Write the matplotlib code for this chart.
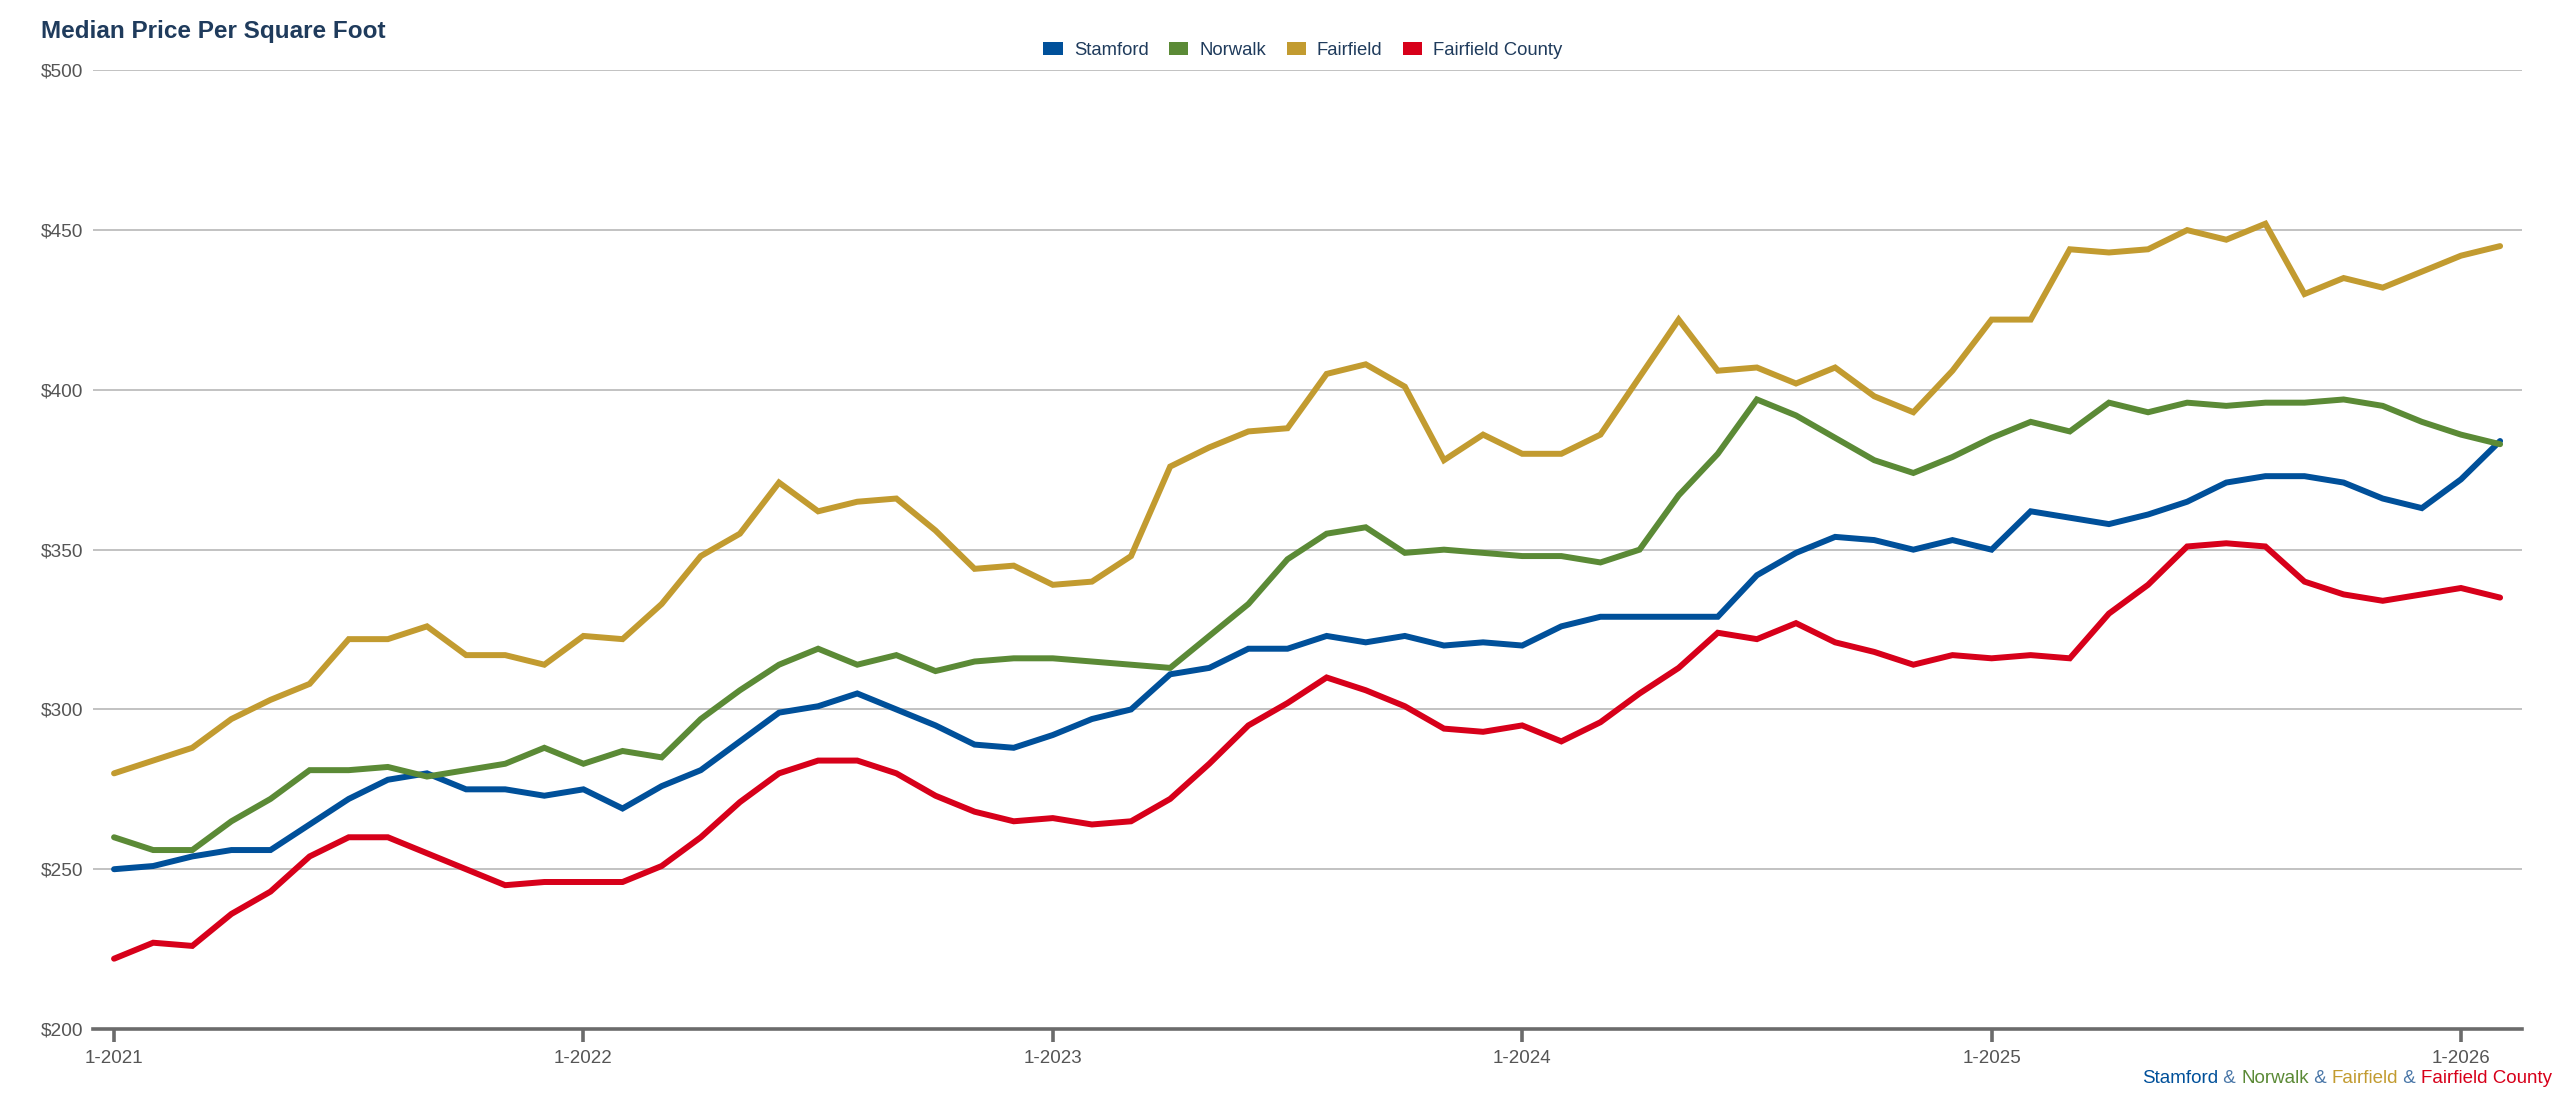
import matplotlib
matplotlib.use("Agg")
import matplotlib.pyplot as plt
from matplotlib.patches import Patch
from matplotlib.ticker import FuncFormatter, MultipleLocator

plt.rcParams["font.family"] = ["Liberation Sans", "DejaVu Sans"]

# monthly points, Jan 2021 .. Feb 2026
months = list(range(62))
tick_pos = [0, 12, 24, 36, 48, 60]
tick_labels = ["1-2021", "1-2022", "1-2023", "1-2024", "1-2025", "1-2026"]

stamford = [250, 251, 254, 256, 256, 264, 272, 278, 280, 275, 275, 273,
            275, 269, 276, 281, 290, 299, 301, 305, 300, 295, 289, 288,
            292, 297, 300, 311, 313, 319, 319, 323, 321, 323, 320, 321,
            320, 326, 329, 329, 329, 329, 342, 349, 354, 353, 350, 353,
            350, 362, 360, 358, 361, 365, 371, 373, 373, 371, 366, 363,
            372, 384]
norwalk = [260, 256, 256, 265, 272, 281, 281, 282, 279, 281, 283, 288,
           283, 287, 285, 297, 306, 314, 319, 314, 317, 312, 315, 316,
           316, 315, 314, 313, 323, 333, 347, 355, 357, 349, 350, 349,
           348, 348, 346, 350, 367, 380, 397, 392, 385, 378, 374, 379,
           385, 390, 387, 396, 393, 396, 395, 396, 396, 397, 395, 390,
           386, 383]
fairfield = [280, 284, 288, 297, 303, 308, 322, 322, 326, 317, 317, 314,
             323, 322, 333, 348, 355, 371, 362, 365, 366, 356, 344, 345,
             339, 340, 348, 376, 382, 387, 388, 405, 408, 401, 378, 386,
             380, 380, 386, 404, 422, 406, 407, 402, 407, 398, 393, 406,
             422, 422, 444, 443, 444, 450, 447, 452, 430, 435, 432, 437,
             442, 445]
county = [222, 227, 226, 236, 243, 254, 260, 260, 255, 250, 245, 246,
          246, 246, 251, 260, 271, 280, 284, 284, 280, 273, 268, 265,
          266, 264, 265, 272, 283, 295, 302, 310, 306, 301, 294, 293,
          295, 290, 296, 305, 313, 324, 322, 327, 321, 318, 314, 317,
          316, 317, 316, 330, 339, 351, 352, 351, 340, 336, 334, 336,
          338, 335]

names = ["Stamford", "Norwalk", "Fairfield", "Fairfield County"]
colors = ["#00509a", "#5b8a36", "#c29b30", "#d7001a"]
amp_color = "#4a77a8"
navy = "#1f3b5c"
grey = "#555555"

fig = plt.figure(figsize=(25.6, 10.99), dpi=100)
ax = fig.add_axes([0.0363, 0.0637, 0.9487, 0.8723])

for vals, name, col in zip([stamford, norwalk, fairfield, county], names, colors):
    ax.plot(months, vals, color=col, lw=4.3, solid_capstyle="round",
            solid_joinstyle="miter", label=name, zorder=3)

ax.set_xlim(-0.54, 61.55)
ax.set_ylim(200, 500)
ax.yaxis.set_major_locator(MultipleLocator(50))
ax.yaxis.set_major_formatter(FuncFormatter(lambda v, p: f"${v:.0f}"))
ax.set_xticks(tick_pos)
ax.set_xticklabels(tick_labels)

ax.grid(axis="y", color="#bdbdbd", lw=1.3, zorder=0)
ax.grid(axis="x", visible=False)
for s in ["left", "right", "top"]:
    ax.spines[s].set_visible(False)
ax.spines["bottom"].set_color("#6b6b6b")
ax.spines["bottom"].set_linewidth(2.6)
ax.tick_params(axis="y", length=0, pad=7, labelsize=13.8, labelcolor=grey)
ax.tick_params(axis="x", length=9, width=2.6, color="#6b6b6b", pad=6,
               labelsize=13.5, labelcolor=grey)

fig.text(0.016, 0.982, "Median Price Per Square Foot", fontsize=17.5,
         fontweight="bold", color=navy, ha="left", va="top")

handles = [Patch(facecolor=c, edgecolor="none") for c in colors]
leg = fig.legend(handles, names, loc="center", bbox_to_anchor=(0.509, 0.954),
                 ncol=4, frameon=False, fontsize=13.3, handlelength=1.05,
                 handleheight=0.7, handletextpad=0.6, columnspacing=1.1)
for t in leg.get_texts():
    t.set_color(navy)

# multi-coloured source line, chained right to left
pieces = [("Stamford", colors[0]), (" & ", amp_color), ("Norwalk", colors[1]),
          (" & ", amp_color), ("Fairfield", colors[2]), (" & ", amp_color),
          ("Fairfield County", colors[3])]
prev = fig.text(0.997, 0.011, pieces[-1][0], color=pieces[-1][1], fontsize=13.5,
                ha="right", va="bottom")
for txt, col in reversed(pieces[:-1]):
    prev = ax.annotate(txt, xy=(0, 0), xycoords=prev, color=col, fontsize=13.5,
                       ha="right", va="bottom", annotation_clip=False)

fig.savefig("out.png", dpi=100)
